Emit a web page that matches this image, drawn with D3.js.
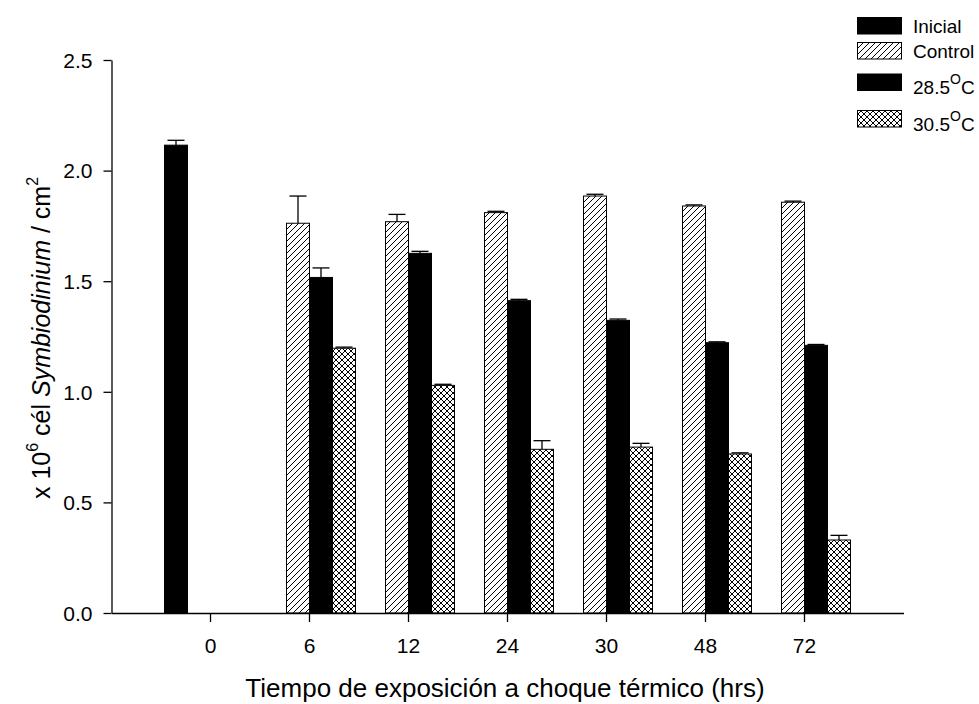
<!DOCTYPE html>
<html>
<head>
<meta charset="utf-8">
<script src="https://cdn.jsdelivr.net/npm/d3@7/dist/d3.min.js"></script>
<style>
  html, body { margin: 0; padding: 0; background: #fff; }
  svg { display: block; font-family: Arial, "Liberation Sans", sans-serif; }
</style>
</head>
<body>
<svg id="chart" width="979" height="704"></svg>
<script>
// Exposure times (hours) on the x axis
const categories = ["0", "6", "12", "24", "30", "48", "72"];
const seriesNames = ["Inicial", "Control", "28.5", "30.5"];

// Symbiodinium density (x10^6 cells / cm^2), mean per treatment
const inicialValues = [2.115, null, null, null, null, null, null];
const controlValues = [null, 1.762, 1.769, 1.810, 1.885, 1.840, 1.857];
const t285Values    = [null, 1.517, 1.626, 1.412, 1.323, 1.222, 1.210];
const t305Values    = [null, 1.197, 1.029, 0.740, 0.750, 0.719, 0.330];

// Standard error (upper bars only)
const inicialErr = [0.022, null, null, null, null, null, null];
const controlErr = [null, 0.123, 0.033, 0.006, 0.008, 0.005, 0.005];
const t285Err    = [null, 0.043, 0.009, 0.006, 0.006, 0.004, 0.004];
const t305Err    = [null, 0.005, 0.005, 0.039, 0.017, 0.005, 0.021];

const yTicks = [0, 0.5, 1.0, 1.5, 2.0, 2.5];

const valuesBySeries = [inicialValues, controlValues, t285Values, t305Values];
const errBySeries = [inicialErr, controlErr, t285Err, t305Err];

const FONT = "Arial, 'Liberation Sans', sans-serif";
const svg = d3.select("#chart");

const plotLeft = 111.5, plotRight = 903.5, plotTop = 60, plotBottom = 613;

const x = d3.scaleBand().domain(categories).range([plotLeft, plotRight])
  .paddingInner(0).paddingOuter(0.5);
const xs = d3.scaleBand().domain(seriesNames)
  .range([3.5, x.bandwidth() - 3.5]).padding(0);
const y = d3.scaleLinear().domain([0, 2.5]).range([plotBottom, plotTop]);

// Fill patterns
const defs = svg.append("defs");
const hatch = defs.append("pattern").attr("id", "hatch")
  .attr("patternUnits", "userSpaceOnUse").attr("width", 6).attr("height", 6);
hatch.append("rect").attr("width", 6).attr("height", 6).attr("fill", "#fff");
hatch.append("path").attr("d", "M-1,7 L7,-1 M-1,1 L1,-1 M5,7 L7,5")
  .attr("stroke", "#000").attr("stroke-width", 1);

const cross = defs.append("pattern").attr("id", "cross")
  .attr("patternUnits", "userSpaceOnUse").attr("width", 6).attr("height", 6);
cross.append("rect").attr("width", 6).attr("height", 6).attr("fill", "#fff");
cross.append("path").attr("d", "M0,0 L6,6 M6,0 L0,6")
  .attr("stroke", "#000").attr("stroke-width", 1);

const fills = { "Inicial": "#000", "Control": "url(#hatch)", "28.5": "#000", "30.5": "url(#cross)" };

// Flatten data for drawing
const rows = [];
seriesNames.forEach((s, si) => {
  categories.forEach((c, ci) => {
    const v = valuesBySeries[si][ci];
    if (v != null) rows.push({ s, c, v, e: errBySeries[si][ci] });
  });
});

// Error bars (upper side only) drawn behind bars
const eg = svg.append("g").attr("stroke", "#000").attr("stroke-width", 1.3);
rows.forEach(d => {
  const cx = x(d.c) + xs(d.s) + xs.bandwidth() / 2;
  eg.append("line").attr("x1", cx).attr("x2", cx)
    .attr("y1", y(d.v)).attr("y2", y(d.v + d.e));
  eg.append("line").attr("x1", cx - 8.5).attr("x2", cx + 8.5)
    .attr("y1", y(d.v + d.e)).attr("y2", y(d.v + d.e));
});

// Bars
svg.append("g").selectAll("rect").data(rows).join("rect")
  .attr("x", d => x(d.c) + xs(d.s))
  .attr("width", xs.bandwidth())
  .attr("y", d => y(d.v))
  .attr("height", d => y(0) - y(d.v))
  .attr("fill", d => fills[d.s])
  .attr("stroke", "#000").attr("stroke-width", 1);

// Axes
const yAxis = d3.axisLeft(y).tickValues(yTicks).tickFormat(d3.format(".1f"))
  .tickSize(8).tickSizeOuter(0);
const gy = svg.append("g").attr("transform", `translate(${plotLeft},0)`).call(yAxis);
gy.attr("font-size", 21).attr("font-family", FONT);
gy.selectAll("text").attr("x", -19).attr("dy", "0.35em").attr("fill", "#000");
gy.selectAll("line, path").attr("stroke", "#000").attr("stroke-width", 1.3);

const xAxis = d3.axisBottom(x).tickSize(9).tickSizeOuter(0);
const gx = svg.append("g").attr("transform", `translate(0,${plotBottom})`).call(xAxis);
gx.attr("font-size", 21).attr("font-family", FONT);
gx.selectAll("text").attr("y", 40).attr("dy", 0).attr("fill", "#000");
gx.selectAll("line, path").attr("stroke", "#000").attr("stroke-width", 1.3);

// Axis titles
svg.append("text").attr("x", 505).attr("y", 697)
  .attr("text-anchor", "middle").attr("font-size", 26)
  .text("Tiempo de exposición a choque térmico (hrs)");

const yt = svg.append("text")
  .attr("transform", "translate(50,338) rotate(-90)")
  .attr("text-anchor", "middle").attr("font-size", 25);
yt.append("tspan").text("x 10");
yt.append("tspan").attr("font-size", 16).attr("dy", -12).text("6");
yt.append("tspan").attr("dy", 12).text(" cél ");
yt.append("tspan").attr("font-style", "italic").text("Symbiodinium");
yt.append("tspan").text("  / cm");
yt.append("tspan").attr("font-size", 16).attr("dy", -12).text("2");

// Legend
const legendY = [17.5, 42.5, 74, 110.5];
const lg = svg.append("g");
seriesNames.forEach((s, i) => {
  lg.append("rect").attr("x", 857.5).attr("y", legendY[i])
    .attr("width", 44).attr("height", 16.5)
    .attr("fill", fills[s]).attr("stroke", "#000").attr("stroke-width", 1);
  const t = lg.append("text").attr("x", 913).attr("font-size", 19);
  if (i < 2) {
    t.attr("y", legendY[i] + 15.5).text(s);
  } else {
    t.attr("y", legendY[i] + 20);
    t.append("tspan").text(s);
    t.append("tspan").attr("font-size", 14).attr("dy", -10).text("O");
    t.append("tspan").attr("dy", 10).text("C");
  }
});
</script>
</body>
</html>
